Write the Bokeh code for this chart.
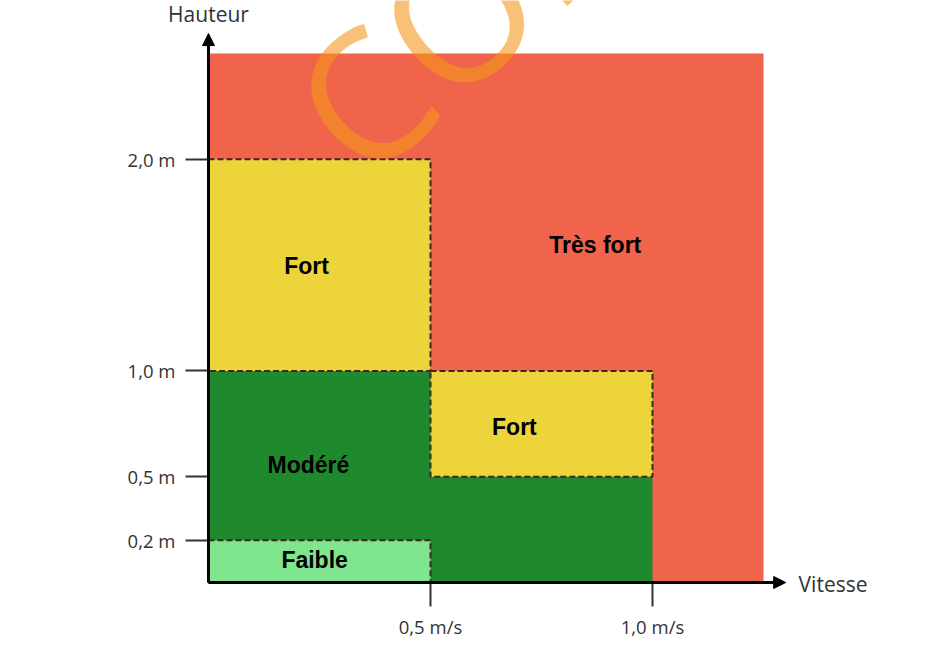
from bokeh.plotting import figure
from bokeh.models import Range1d, FixedTicker, Arrow, NormalHead, Label, ColumnDataSource, LinearAxis
from bokeh.core.properties import value
from bokeh.embed import file_html
from bokeh.resources import INLINE

# ---- data ----
zone_names = ["Très fort", "Modéré", "Fort", "Fort", "Faible"]
zone_left = [0.0, 0.0, 0.0, 0.5, 0.0]
zone_right = [1.25, 1.0, 0.5, 1.0, 0.5]
zone_bottom = [0.0, 0.0, 1.0, 0.5, 0.0]
zone_top = [2.5, 1.0, 2.0, 1.0, 0.2]
zone_colors = ["#EF644A", "#1F8A2D", "#EDD43B", "#EDD43B", "#7FE58F"]
zone_dashed = [False, False, True, True, True]

label_texts = ["Très fort", "Fort", "Fort", "Modéré", "Faible"]
label_x = [0.871, 0.221, 0.689, 0.225, 0.239]
label_y = [1.597, 1.498, 0.733, 0.553, 0.104]

y_ticks = [0.2, 0.5, 1.0, 2.0]
y_tick_labels = ["0,2 m", "0,5 m", "1,0 m", "2,0 m"]
x_ticks = [0.5, 1.0]
x_tick_labels = ["0,5 m/s", "1,0 m/s"]

W, H = 930, 654
X0, Y0 = 208.0, 582.0     # pixel position of the origin
px_x = 444.0
px_y = 211.6

p = figure(width=W, height=H, output_backend="svg", toolbar_location=None,
           x_axis_location=None, y_axis_location=None,
           x_range=Range1d(-X0 / px_x, (W - X0) / px_x),
           y_range=Range1d(-(H - Y0) / px_y, Y0 / px_y),
           min_border=0)
p.outline_line_color = None
p.grid.visible = False
p.background_fill_color = "white"
p.border_fill_color = "white"

# zones
src = ColumnDataSource(dict(left=zone_left, right=zone_right, bottom=zone_bottom,
                            top=zone_top, color=zone_colors))
p.quad(left="left", right="right", bottom="bottom", top="top", source=src,
       fill_color="color", line_color=None)

d_idx = [i for i, d in enumerate(zone_dashed) if d]
dsrc = ColumnDataSource(dict(left=[zone_left[i] for i in d_idx], right=[zone_right[i] for i in d_idx],
                             bottom=[zone_bottom[i] for i in d_idx], top=[zone_top[i] for i in d_idx]))
p.quad(left="left", right="right", bottom="bottom", top="top", source=dsrc,
       fill_color=None, line_color="#3a2a1e", line_width=2, line_dash="6 3")

# watermark
p.text(x=[0.250], y=[2.112], text=["CON"], angle=0.733, text_font=value("Open Sans"),
       text_font_size="180px", text_color="#F5961E", text_alpha=0.6,
       text_align="left", text_baseline="alphabetic")

# zone labels
p.text(x=label_x, y=label_y, text=label_texts, text_font=value("Liberation Sans"),
       text_font_style="bold", text_font_size="23px", text_color="black",
       text_align="center", text_baseline="middle")

# axes (crossing at the origin)
yax = LinearAxis(fixed_location=0, ticker=FixedTicker(ticks=y_ticks),
                 major_label_overrides={t: l for t, l in zip(y_ticks, y_tick_labels)})
xax = LinearAxis(fixed_location=0, ticker=FixedTicker(ticks=x_ticks),
                 major_label_overrides={t: l for t, l in zip(x_ticks, x_tick_labels)})
for ax in (yax, xax):
    ax.axis_line_color = None
    ax.major_tick_in = 0
    ax.minor_tick_line_color = None
    ax.major_tick_line_color = "#333333"
    ax.major_tick_line_width = 2
    ax.major_label_text_font = "Open Sans"
    ax.major_label_text_font_size = "18.5px"
    ax.major_label_text_color = "#333333"
yax.major_tick_out = 23
yax.major_label_standoff = 10
xax.major_tick_out = 24
xax.major_label_standoff = 7
p.add_layout(yax, "left")
p.add_layout(xax, "below")

# axis arrows
p.add_layout(Arrow(x_start=0, y_start=0, x_end=0, y_end=2.594, line_width=3, line_color="black",
                   end=NormalHead(size=12, fill_color="black", line_color="black")))
p.add_layout(Arrow(x_start=0, y_start=0, x_end=1.30, y_end=0, line_width=3, line_color="black",
                   end=NormalHead(size=12, fill_color="black", line_color="black")))

p.add_layout(Label(x=0, y=2.689, text="Hauteur", text_font="Open Sans", text_font_size="21px",
                   text_color="#333333", text_align="center", text_baseline="middle"))
p.add_layout(Label(x=1.329, y=-0.005, text="Vitesse", text_font="Open Sans", text_font_size="21px",
                   text_color="#333333", text_align="left", text_baseline="middle"))

open("out.html", "w").write(file_html(p, INLINE))
